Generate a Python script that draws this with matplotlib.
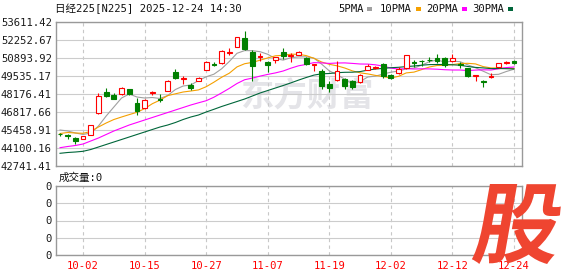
import matplotlib
matplotlib.use('Agg')
import matplotlib.pyplot as plt
import numpy as np
from matplotlib.font_manager import FontProperties
from matplotlib.patches import PathPatch, Rectangle
from matplotlib.textpath import TextPath
from matplotlib.transforms import Affine2D, IdentityTransform

# trading days shown (MM-DD)
dates = ['09-29', '09-30', '10-01', '10-02', '10-03', '10-06', '10-07', '10-08', '10-09', '10-10',
         '10-14', '10-15', '10-16', '10-17', '10-20', '10-21', '10-22', '10-23', '10-24', '10-27',
         '10-28', '10-29', '10-30', '10-31', '11-04', '11-05', '11-06', '11-07', '11-10', '11-11',
         '11-12', '11-13', '11-14', '11-17', '11-18', '11-19', '11-20', '11-21', '11-25', '11-26',
         '11-27', '11-28', '12-01', '12-02', '12-03', '12-04', '12-05', '12-08', '12-09', '12-10',
         '12-11', '12-12', '12-15', '12-16', '12-17', '12-18', '12-19', '12-22', '12-23', '12-24']

opens = [45177, 45044, 44855, 44805, 45118, 46719, 48327, 48085, 48153, 48531,
         47496, 47104, 48229, 47813, 48425, 49821, 49308, 48856, 49195, 50025,
         50478, 50516, 51309, 51762, 52381, 51369, 50946, 50614, 50743, 51369,
         51082, 51158, 50916, 50365, 49912, 48946, 49270, 49286, 49180, 49104,
         50025, 50176, 50441, 49648, 49761, 50116, 50606, 50705, 50780, 50931,
         50894, 50652, 50478, 50116, 49557, 49134, 49497, 50191, 50531, 50667]
highs = [45252, 45157, 44953, 45030, 45860, 48289, 48629, 48274, 48727, 48576,
         47859, 47798, 48425, 48176, 49233, 50063, 49535, 48984, 49482, 50630,
         50614, 51535, 51649, 52500, 52932, 51498, 51271, 50705, 50984, 51626,
         51248, 51422, 50969, 50478, 50041, 49120, 50667, 49384, 49270, 49686,
         50418, 50327, 50516, 49686, 50237, 51158, 50743, 50743, 50992, 51233,
         50969, 51196, 50614, 50176, 49648, 49233, 49738, 50554, 50690, 50743]
lows = [45006, 44780, 44402, 44760, 45090, 46700, 47972, 47776, 48130, 48123,
        46606, 47066, 48078, 47572, 48402, 49285, 48931, 48478, 49120, 49988,
        50290, 50478, 51098, 51740, 51535, 49195, 50630, 49837, 50539, 50795,
        50614, 51120, 50403, 49950, 48553, 48350, 49157, 48553, 48591, 49044,
        49988, 50101, 49361, 49346, 49686, 50101, 50252, 50290, 50592, 50494,
        50237, 50592, 50116, 49460, 49180, 48727, 49361, 50176, 50441, 50418]
closes = [45131, 44991, 44591, 45006, 45820, 48002, 48025, 47836, 48629, 48176,
          46908, 47723, 48327, 47738, 49180, 49368, 49384, 48629, 49399, 50592,
          50365, 51422, 51384, 52479, 51611, 50327, 51044, 50403, 50946, 51029,
          51158, 51331, 50456, 50441, 48780, 48606, 49889, 48757, 48727, 49611,
          50305, 50252, 49535, 49399, 50063, 51120, 50531, 50644, 50720, 50705,
          50365, 50871, 50403, 49512, 49625, 49082, 49557, 50539, 50577, 50493]

ma5 = [45459, 45384, 45233, 45120, 45233, 45761, 46516, 47195, 47874, 48176,
       47950, 47874, 47912, 47837, 48063, 48516, 48780, 48855, 49195, 49475,
       49671, 50078, 50630, 51249, 51453, 51445, 51370, 51174, 50849, 50735,
       50916, 50977, 50984, 50886, 50433, 49920, 49633, 49293, 48954, 49120,
       49459, 49527, 49686, 49822, 49912, 50071, 50131, 50350, 50614, 50743,
       50592, 50660, 50614, 50373, 50154, 49897, 49633, 49663, 49874, 50048]
ma10 = [45195, 45270, 45233, 45210, 45346, 45685, 45987, 46251, 46440, 46621,
        46795, 47074, 47444, 47716, 48055, 48191, 48327, 48402, 48485, 48727,
        49067, 49437, 49746, 50222, 50463, 50562, 50728, 50901, 51060, 51098,
        51181, 51173, 51075, 50871, 50592, 50418, 50305, 50139, 49920, 49776,
        49693, 49580, 49490, 49384, 49512, 49769, 49829, 50018, 50214, 50327,
        50335, 50395, 50478, 50493, 50448, 50244, 50146, 50139, 50124, 50101]
ma20 = [44123, 44214, 44289, 44402, 44629, 44855, 45120, 45384, 45610, 45836,
        46025, 46214, 46403, 46591, 46780, 46969, 47157, 47346, 47512, 47670,
        47934, 48259, 48599, 48968, 49255, 49376, 49527, 49656, 49769, 49912,
        50124, 50305, 50410, 50546, 50524, 50486, 50516, 50524, 50486, 50441,
        50433, 50380, 50282, 50131, 50056, 50093, 50063, 50078, 50071, 50048,
        50010, 49988, 49988, 49943, 49980, 50003, 49988, 50078, 50169, 50214]
ma30 = [43700, 43761, 43798, 43851, 43987, 44176, 44365, 44553, 44742, 44931,
        45120, 45308, 45497, 45685, 45836, 46025, 46251, 46440, 46591, 46818,
        47021, 47232, 47421, 47610, 47799, 48025, 48251, 48440, 48629, 48817,
        49014, 49226, 49422, 49603, 49701, 49724, 49784, 49814, 49822, 49867,
        49980, 50063, 50109, 50161, 50192, 50245, 50290, 50350, 50395, 50403,
        50403, 50380, 50350, 50252, 50184, 50146, 50093, 50101, 50086, 50071]

price_ticks = [42741.41, 44100.16, 45458.91, 46817.66, 48176.41,
               49535.17, 50893.92, 52252.67, 53611.42]
tick_dates = ['10-02', '10-15', '10-27', '11-07', '11-19', '12-02', '12-12', '12-24']
ma_names = ['5PMA', '10PMA', '20PMA', '30PMA']
ma_colors = ['#a0a0a0', '#f5a000', '#ff00ff', '#00663a']
volume_total = 0
title = '日经225[N225] 2025-12-24 14:30'

plt.rcParams['font.family'] = ['DejaVu Sans Mono', 'Noto Sans CJK SC']

W, H = 578, 276
fig = plt.figure(figsize=(W / 100, H / 100), dpi=100)
fig.patch.set_facecolor('white')

ax = fig.add_axes([56 / W, 1 - 166 / H, 466 / W, 144 / H])
axv = fig.add_axes([56 / W, 1 - 255 / H, 466 / W, 69 / H])

x = np.arange(len(dates))
tick_pos = [dates.index(d) for d in tick_dates]

# watermark
ax.text(0.395, 0.48, '东方财富', transform=ax.transAxes, fontsize=24, fontweight='bold',
        color='#e4e4e8', family='Noto Sans CJK SC', va='center', ha='left', zorder=0.2)

# moving averages
for vals, col in zip([ma5, ma10, ma20, ma30], ma_colors):
    ax.plot(x, vals, color=col, lw=0.8, zorder=2.5)

# candles
for i in x:
    o, h, l, c = opens[i], highs[i], lows[i], closes[i]
    up = c >= o
    col = '#ff0000' if up else '#008000'
    ax.vlines(i, l, h, color=col, lw=0.8, zorder=3)
    ax.bar(i, abs(c - o), bottom=min(o, c), width=0.62,
           facecolor='white' if up else col, edgecolor=col, linewidth=0.8, zorder=4)

for a in (ax, axv):
    a.set_xlim(-0.52, 60.04)
    a.set_xticks(tick_pos)
    a.set_axisbelow(True)
    a.grid(axis='x', color='#c8c8c8', lw=0.8, linestyle=(0, (3, 3)))
    a.grid(axis='y', color='#cccccc', lw=0.8)
    a.tick_params(length=0, labelsize=7.6, labelcolor='#1a1a1a', pad=3)
    for s in a.spines.values():
        s.set_color('#999999')
        s.set_linewidth(1.0)

ax.set_ylim(price_ticks[0], price_ticks[-1])
ax.set_yticks(price_ticks)
ax.set_yticklabels([f'{v:.2f}' for v in price_ticks])
ax.set_xticklabels([])

axv.set_ylim(0, 4)
axv.set_yticks(range(5))
axv.set_yticklabels([str(volume_total)] * 5)
axv.set_xticklabels(tick_dates, color='#ff0000')
axv.tick_params(axis='x', pad=4)

# header texts
fig.text(55 / W, 1 - 9 / H, title, va='center', ha='left', fontsize=7.6, color='#111111')
fig.text(59 / W, 1 - 177.5 / H, f'成交量:{volume_total}', va='center', ha='left',
         fontsize=7.6, color='#111111')

legend_x = [338, 380, 426, 472]
for name, col, lx in zip(ma_names, ma_colors, legend_x):
    fig.text(lx / W, 1 - 9 / H, name, va='center', ha='left', fontsize=7.6, color='#111111')
    sw = 6.3 * len(name) + 4
    fig.add_artist(Rectangle(((lx + sw) / W, 1 - 11 / H), 5 / W, 4 / H,
                             transform=fig.transFigure, color=col, lw=0))

# "股" badge
fp = FontProperties(family='Noto Sans CJK SC', weight='heavy')
tp = TextPath((0, 0), '股', size=92, prop=fp)
bb = tp.get_extents()
tr = Affine2D().translate(-bb.x0, -bb.y0).scale(82 / bb.width, 80 / bb.height).skew_deg(10, 0).translate(471, 12)
fig.add_artist(PathPatch(tr.transform_path(tp), facecolor='#ef4530', lw=0,
                         transform=IdentityTransform(), zorder=10))

fig.savefig('out.png', dpi=100)
